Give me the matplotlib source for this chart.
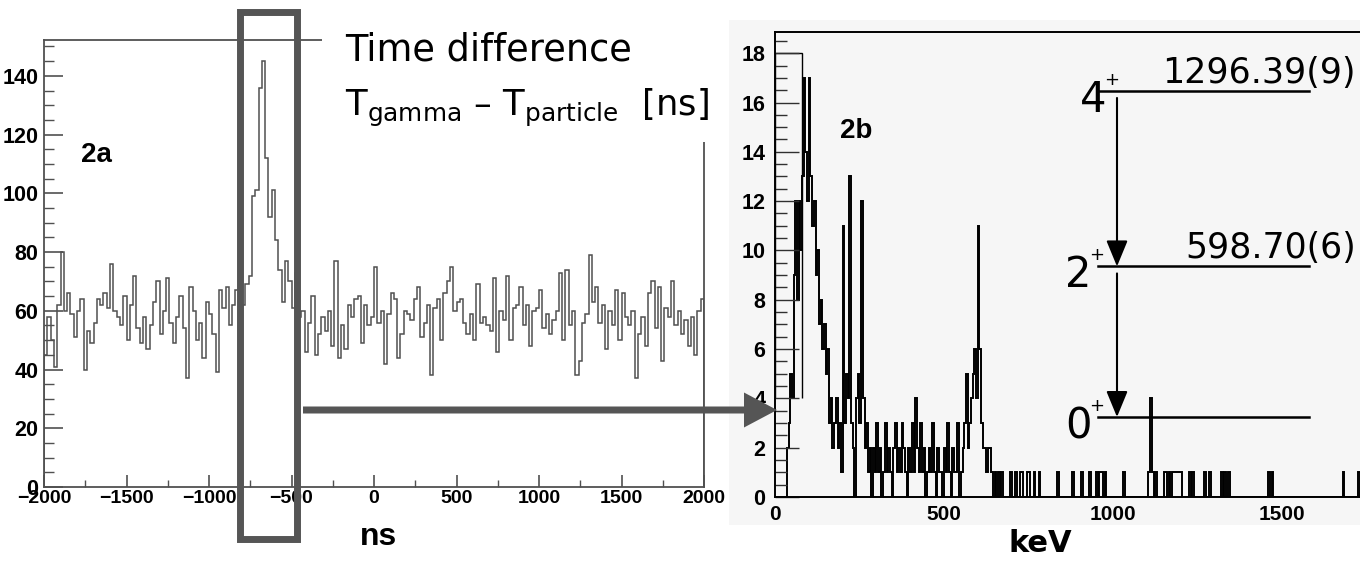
import numpy as np
import matplotlib
matplotlib.use("Agg")
import matplotlib.pyplot as plt
from matplotlib.patches import Rectangle, FancyArrow
from matplotlib.ticker import MultipleLocator

plt.rcParams['font.family'] = ['Liberation Sans', 'DejaVu Sans']

# 2a: time difference spectrum, 20 ns bins from -2000 to 2000
time_edges = np.arange(-2000, 2001, 20)
time_counts = [
    45, 58, 50, 41, 62, 80, 60, 66, 59, 51, 60, 64, 40, 53, 49, 56, 64, 62, 66, 61,
    76, 60, 58, 55, 65, 50, 62, 72, 54, 49, 58, 47, 55, 63, 70, 52, 60, 71, 56, 49,
    58, 65, 54, 37, 68, 60, 50, 56, 44, 63, 59, 52, 39, 67, 61, 68, 55, 62, 67, 53,
    62, 69, 72, 99, 101, 136, 145, 112, 92, 101, 84, 74, 63, 77, 70, 61, 73, 58, 60, 46,
    56, 65, 45, 52, 58, 53, 60, 48, 77, 44, 55, 47, 62, 58, 64, 65, 49, 62, 55, 58,
    75, 56, 60, 42, 59, 66, 64, 44, 52, 60, 59, 57, 64, 68, 51, 56, 62, 38, 61, 64,
    50, 66, 70, 75, 60, 63, 64, 56, 52, 59, 50, 69, 56, 58, 55, 53, 71, 46, 60, 57,
    72, 50, 61, 62, 68, 55, 62, 48, 60, 61, 67, 54, 59, 52, 57, 60, 73, 50, 74, 55,
    60, 38, 43, 56, 59, 79, 63, 68, 56, 62, 47, 60, 55, 67, 50, 66, 58, 55, 60, 37,
    52, 58, 48, 66, 70, 54, 68, 43, 61, 58, 70, 55, 60, 52, 57, 48, 58, 45, 60, 64,
]

# 2b: gamma energy spectrum, 5 keV bins, dense part 0-650 keV
energy_counts = [
    0, 0, 0, 0, 0, 0, 0, 2, 3, 5, 4, 9, 12, 8, 12, 10, 13, 17, 14, 12,
    17, 13, 11, 12, 9, 10, 7, 8, 6, 7, 5, 6, 3, 4, 2, 3, 4, 2, 3, 1,
    11, 3, 5, 4, 13, 3, 2, 0, 4, 5, 3, 12, 4, 2, 3, 1, 2, 0, 2, 1,
    3, 1, 2, 0, 1, 3, 1, 2, 1, 0, 2, 3, 1, 2, 1, 3, 2, 1, 0, 2,
    1, 3, 1, 4, 2, 1, 3, 1, 2, 0, 1, 2, 1, 3, 1, 0, 2, 1, 1, 0,
    2, 1, 3, 1, 0, 2, 1, 1, 3, 0, 1, 2, 3, 5, 2, 3, 4, 5, 6, 4,
    11, 6, 3, 2, 2, 1, 2, 2, 1, 0,
]
sparse_keV = [651, 664, 674, 695, 713, 725, 730, 747, 752, 769, 784, 838, 883, 907,
              932, 952, 960, 969, 976, 1033, 1105, 1111, 1114, 1119, 1127, 1154, 1159,
              1169, 1178, 1183, 1188, 1193, 1198, 1203, 1228, 1238, 1272, 1285, 1322,
              1331, 1341, 1462, 1474, 1680, 1725]
sparse_counts = [1, 1, 1, 1, 1, 1, 1, 1, 1, 1, 1, 1, 1, 1,
                 1, 1, 1, 1, 1, 1, 1, 3, 1, 1, 1, 1, 1,
                 1, 1, 1, 1, 1, 1, 1, 1, 1, 1, 1, 1,
                 1, 1, 1, 1, 1, 1]
ghost_edges = [0, 80]
ghost_counts = [18]

# level scheme
level_energy = [1296.39, 598.70, 0.0]
level_spin = ["4", "2", "0"]
level_label = ["1296.39(9)", "598.70(6)", ""]

energy_edges = np.arange(0, 1755, 5)
energy_hist = np.zeros(len(energy_edges) - 1)
energy_hist[:len(energy_counts)] = energy_counts
np.add.at(energy_hist, np.array(sparse_keV) // 5, sparse_counts)

W, H = 1360, 561
fig = plt.figure(figsize=(13.6, 5.61), dpi=100)

def frac(x0, y0, x1, y1):
    return [x0 / W, 1 - y1 / H, (x1 - x0) / W, (y1 - y0) / H]

# background of the right panel (pasted image look)
bg = fig.add_axes(frac(729, 20, 1360, 525), zorder=0)
bg.set_facecolor('#f6f6f6')
bg.set_xticks([]); bg.set_yticks([])
for s in bg.spines.values():
    s.set_visible(False)

# ---- left panel
ax1 = fig.add_axes(frac(44, 40, 704, 487), zorder=1)
ax1.stairs(time_counts, time_edges, color='#505050', lw=1.1)
ax1.set_xlim(-2000, 2000)
ax1.set_ylim(0, 152.2)
ax1.xaxis.set_major_locator(MultipleLocator(500))
ax1.xaxis.set_minor_locator(MultipleLocator(250))
ax1.yaxis.set_major_locator(MultipleLocator(20))
ax1.yaxis.set_minor_locator(MultipleLocator(5))
ax1.tick_params(axis='y', which='major', direction='in', length=14, width=1.2,
                color='#505050', labelsize=15.5, pad=4)
ax1.tick_params(axis='y', which='minor', direction='in', length=7, width=1.0, color='#505050')
ax1.tick_params(axis='x', which='major', direction='in', length=9, width=1.2,
                color='#505050', labelsize=14, pad=2)
ax1.tick_params(axis='x', which='minor', direction='in', length=5, width=1.0, color='#505050')
for s in ax1.spines.values():
    s.set_color('#505050')
    s.set_linewidth(1.3)

# ---- right panel
ax2 = fig.add_axes(frac(775, 32, 1360, 497), zorder=1)
ax2.set_facecolor('#f6f6f6')
ax2.stairs(ghost_counts, ghost_edges, baseline=4, color='black', lw=1.0)
ax2.stairs(energy_hist, energy_edges, color='black', lw=1.4)
ax2.set_xlim(0, 1731)
ax2.set_ylim(0, 18.86)
ax2.xaxis.set_major_locator(MultipleLocator(500))
ax2.yaxis.set_major_locator(MultipleLocator(2))
ax2.yaxis.set_minor_locator(MultipleLocator(0.5))
ax2.tick_params(axis='y', which='major', direction='in', length=17, width=1.0,
                color='#303030', labelsize=15.5, pad=7)
ax2.tick_params(axis='y', which='minor', direction='in', length=8.5, width=1.0, color='#303030')
ax2.tick_params(axis='x', which='major', length=0, labelsize=15, pad=6)
ax2.spines['right'].set_visible(False)
for s in ['left', 'top', 'bottom']:
    ax2.spines[s].set_linewidth(1.4)

fig.canvas.draw()
for ax in (ax1, ax2):
    plt.setp(ax.get_xticklabels() + ax.get_yticklabels(), fontweight='bold')

# ---- overlay in pixel coordinates
ov = fig.add_axes([0, 0, 1, 1], zorder=10)
ov.set_xlim(0, W)
ov.set_ylim(H, 0)
ov.axis('off')
ov.patch.set_alpha(0)

ov.add_patch(Rectangle((322, 0), 395, 142, fc='white', ec='none'))
ov.add_patch(Rectangle((239.5, 11.5), 57, 527, fill=False, lw=5, ec='#555555'))
ov.add_patch(FancyArrow(303, 410, 474, 0, width=7, head_width=35, head_length=33,
                        length_includes_head=True, color='#555555', lw=0))

txt = dict(family=['DejaVu Sans'], fontweight='normal', color='black')
ov.text(345, 50, "Time difference", fontsize=26.5, ha='left', va='center', **txt)
ov.text(345, 108, r"T$_{\mathrm{gamma}}$ – T$_{\mathrm{particle}}$  [ns]", fontsize=25.5,
        ha='left', va='center', **txt)

ov.text(96, 155, "2a", fontsize=20, ha='center', va='center', fontweight='bold')
ov.text(856, 131, "2b", fontsize=20, ha='center', va='center', fontweight='bold')
ov.text(378, 537, "ns", fontsize=23, ha='center', va='center', fontweight='bold')
ov.text(1040, 543, "keV", fontsize=22, ha='center', va='center', fontweight='bold',
        family=['DejaVu Sans'])

# level scheme, y position follows the level energy
y_zero, px_per_keV = 417, 0.2515
spin_x = [1093, 1078, 1078]
level_y = [y_zero - e * px_per_keV for e in level_energy]
for i, (y, spin, lab) in enumerate(zip(level_y, level_spin, level_label)):
    ov.plot([1098, 1309], [y, y], color='black', lw=1.8)
    ov.text(spin_x[i], y + 9, spin, fontsize=30, ha='center', va='center', **txt)
    ov.text(spin_x[i] + 19, y - 11, "+", fontsize=13, ha='center', va='center', **txt)
    if lab:
        ov.text(1356, y - 18, lab, fontsize=25, ha='right', va='center', **txt)
for y_top, y_bot in zip(level_y[:-1], level_y[1:]):
    ov.annotate("", xy=(1117, y_bot), xytext=(1117, y_top + 7),
                arrowprops=dict(arrowstyle='-|>,head_length=0.8,head_width=0.33',
                                mutation_scale=20, color='black', lw=1.5,
                                shrinkA=0, shrinkB=0))

fig.savefig("out.png", dpi=100)
